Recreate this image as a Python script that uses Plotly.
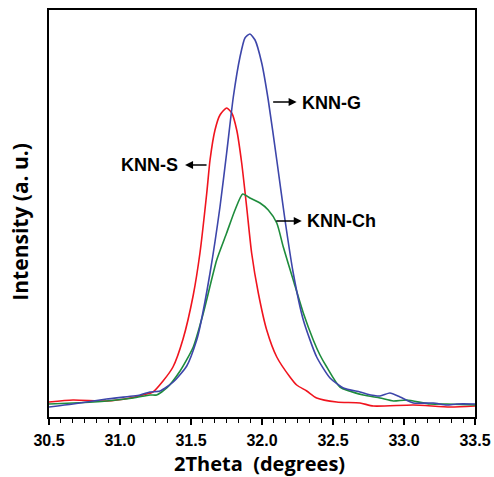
import plotly.graph_objects as go

# ---- data (2Theta in degrees, intensity in arbitrary units) ----
red_x = [30.50, 30.669, 30.908, 31.070, 31.162, 31.232, 31.303, 31.373, 31.444, 31.516,
         31.563, 31.611, 31.634, 31.669, 31.704, 31.751, 31.787, 31.822, 31.857, 31.892, 31.927,
         31.974, 32.033, 32.104, 32.197, 32.244, 32.315, 32.385, 32.526, 32.690, 32.784,
         33.065, 33.324, 33.50]
red_y = [15, 17, 16, 19, 22, 25, 36, 50, 78, 122,
         164, 224, 257, 287, 302, 309, 304, 287, 254, 210, 164,
         124, 87, 60, 40, 32, 26, 19, 15, 14, 11,
         12, 10, 11]

blue_x = [30.50, 30.669, 30.906, 31.141, 31.211, 31.282, 31.375, 31.470, 31.540, 31.563,
          31.634, 31.704, 31.751, 31.798, 31.845, 31.880, 31.915, 31.951, 31.998, 32.044, 32.104,
          32.162, 32.220, 32.291, 32.385, 32.479, 32.573, 32.690, 32.737, 32.831, 32.901, 32.972,
          33.066, 33.206, 33.301, 33.371, 33.50]
blue_y = [10, 13, 18, 22, 25, 26, 35, 51, 77, 90,
          144, 210, 264, 320, 360, 379, 383, 377, 354, 317, 257,
          197, 144, 97, 60, 39, 29, 25, 23, 21, 24, 20,
          14, 14, 12, 13, 13]

green_x = [30.50, 30.669, 30.906, 31.094, 31.211, 31.258, 31.329, 31.423, 31.516, 31.587,
           31.681, 31.751, 31.810, 31.864, 31.915, 31.986, 32.044, 32.104, 32.150, 32.220,
           32.291, 32.361, 32.408, 32.456, 32.549, 32.713, 32.831, 32.925, 33.019, 33.183, 33.301,
           33.50]
green_y = [13, 14, 16, 19, 22, 22, 29, 46, 70, 104,
           157, 184, 207, 223, 219, 214, 207, 194, 170, 137,
           104, 77, 62, 50, 30, 22, 19, 16, 17, 13, 13,
           12]

x_ticks = [30.5, 31.0, 31.5, 32.0, 32.5, 33.0, 33.5]
x_tick_labels = ["30.5", "31.0", "31.5", "32.0", "32.5", "33.0", "33.5"]

labels = ["KNN-S", "KNN-G", "KNN-Ch"]

fig = go.Figure()
fig.add_trace(go.Scatter(x=red_x, y=red_y, mode="lines", name=labels[0],
                         line=dict(color="#f0141e", width=1.6, shape="spline", smoothing=0.6)))
fig.add_trace(go.Scatter(x=green_x, y=green_y, mode="lines", name=labels[2],
                         line=dict(color="#1e8c3c", width=1.6, shape="spline", smoothing=0.6)))
fig.add_trace(go.Scatter(x=blue_x, y=blue_y, mode="lines", name=labels[1],
                         line=dict(color="#3d46aa", width=1.6, shape="spline", smoothing=0.6)))

lab_font = dict(family="Liberation Sans, Arial, sans-serif", size=18, color="black")
xtitle_font = dict(family="Open Sans, sans-serif", size=20, color="black")
ytitle_font = dict(family="Open Sans, sans-serif", size=21, color="black")

annotations = [
    # arrows (head at the label side)
    dict(x=32.244, y=315, ax=-25, ay=0, text="", showarrow=True, arrowhead=2,
         arrowsize=1, arrowwidth=1.6, arrowcolor="black", xref="x", yref="y"),
    dict(x=31.458, y=252, ax=23, ay=0, text="", showarrow=True, arrowhead=2,
         arrowsize=1, arrowwidth=1.6, arrowcolor="black", xref="x", yref="y"),
    dict(x=32.280, y=196, ax=-27, ay=0, text="", showarrow=True, arrowhead=2,
         arrowsize=1, arrowwidth=1.6, arrowcolor="black", xref="x", yref="y"),
    # labels
    dict(x=32.268, y=314, text="<b>" + labels[1] + "</b>", showarrow=False,
         xanchor="left", yanchor="middle", font=lab_font, xref="x", yref="y"),
    dict(x=31.420, y=252, text="<b>" + labels[0] + "</b>", showarrow=False,
         xanchor="right", yanchor="middle", font=lab_font, xref="x", yref="y"),
    dict(x=32.304, y=196, text="<b>" + labels[2] + "</b>", showarrow=False,
         xanchor="left", yanchor="middle", font=lab_font, xref="x", yref="y"),
    # axis titles
    dict(x=0.495, y=0, xref="paper", yref="paper", yshift=-46, text="<b>2Theta  (degrees)</b>",
         showarrow=False, xanchor="center", yanchor="middle", font=xtitle_font),
    dict(x=0, y=0.48, xref="paper", yref="paper", xshift=-29, text="<b>Intensity (a. u.)</b>",
         showarrow=False, xanchor="center", yanchor="middle", textangle=-90, font=ytitle_font),
]

fig.update_layout(
    width=494, height=477,
    margin=dict(l=49, r=19, t=10, b=60, autoexpand=False),
    plot_bgcolor="white", paper_bgcolor="white",
    showlegend=False,
    annotations=annotations,
    xaxis=dict(range=[30.5, 33.5], tickmode="array", tickvals=x_ticks,
               ticktext=["<b>" + t + "</b>" for t in x_tick_labels],
               ticks="outside", ticklen=6, tickwidth=1.5, tickcolor="black",
               minor=dict(dtick=0.5 / 6, ticks="outside", ticklen=4, tickwidth=1.2, tickcolor="black"),
               showline=True, linecolor="black", linewidth=2, mirror=True,
               showgrid=False, zeroline=False, ticklabeloverflow="allow", automargin=False,
               tickfont=dict(family="Liberation Sans, Arial, sans-serif", size=16, color="black"),
               ticklabelstandoff=2),
    yaxis=dict(range=[0, 407], showticklabels=False, ticks="", automargin=False,
               showline=True, linecolor="black", linewidth=2, mirror=True,
               showgrid=False, zeroline=False),
)

# remove the browser's default page margin so the figure fills the window exactly
fig.write_html("out.html", config={"displayModeBar": False},
               post_script="document.body.style.margin='0';")
